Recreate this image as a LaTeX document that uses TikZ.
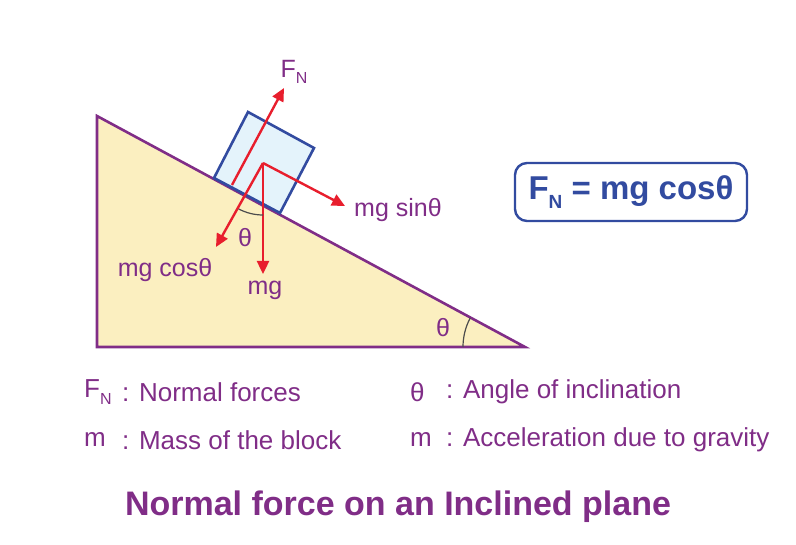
\documentclass[tikz,border=0pt]{standalone}
\usepackage{fontspec}
\setmainfont{Liberation Sans}
\usetikzlibrary{arrows.meta}
\definecolor{pur}{RGB}{128,45,135}
\definecolor{fred}{RGB}{232,30,45}
\definecolor{bblue}{RGB}{50,75,160}
\definecolor{ramp}{RGB}{251,239,192}
\definecolor{blk}{RGB}{228,243,251}
\begin{document}
\begin{tikzpicture}[x=1pt,y=-1pt,
  force/.style={fred,line width=2.4pt,-{Triangle[length=13pt,width=12pt]}},
  lbl/.style={pur,font=\fontsize{25}{28}\selectfont,inner sep=0pt},
  leg/.style={pur,font=\fontsize{26}{28}\selectfont,inner sep=0pt,anchor=west}]
\useasboundingbox (0,0) rectangle (796,545);
\draw[pur,line width=2.6pt,fill=ramp] (97,116) coordinate(t1) -- (97,347) coordinate(t2) -- (525,347) coordinate(t3) -- cycle;
\draw[bblue,line width=2.6pt,fill=blk] (214,178) -- (248,112) -- (314,148) -- (280,213) -- cycle;
\coordinate (c) at (263,163);
\coordinate (fb) at (232,185);
\coordinate (fn) at (284,88);
\coordinate (ms) at (345,206);
\coordinate (mc) at (216,247);
\coordinate (mg) at (263,274);
\draw[force] (fb) -- (fn);
\draw[force] (c) -- (ms);
\draw[force] (c) -- (mc);
\draw[force] (c) -- (mg);
\draw[black!70,line width=1.2pt] (c) ++(118:52) arc[start angle=118,end angle=90,radius=52];
\draw[black!70,line width=1.2pt] (t3) ++(180:62) arc[start angle=180,end angle=208,radius=62];
\node[lbl] (fnl) at (294,72) {F\raisebox{-0.5ex}{\fontsize{16}{17}\selectfont N}};
\node[lbl] (th1) at (245,238) {θ};
\node[lbl] (mcl) at (165,270) {mg cosθ};
\node[lbl] (mgl) at (265,290) {mg};
\node[lbl] (msl) at (398,210) {mg sinθ};
\node[lbl] (th2) at (443,328) {θ};
\node[draw=bblue,line width=2.4pt,rounded corners=12pt,minimum width=232pt,minimum height=58pt,fill=white,text=bblue,font=\bfseries\fontsize{33}{35}\selectfont] (eq) at (631,192) {F\raisebox{-0.5ex}{\fontsize{19}{20}\selectfont N} = mg cosθ};
\node[leg] (l1) at (84,392) {F\raisebox{-0.5ex}{\fontsize{16}{17}\selectfont N}};
\node[leg] (l1b) at (122,392) {: Normal forces};
\node[leg] (l2) at (84,440) {m};
\node[leg] (l2b) at (122,440) {: Mass of the block};
\node[leg] (l3) at (410,392) {θ};
\node[leg] (l3b) at (446,392) {: Angle of inclination};
\node[leg] (l4) at (410,440) {m};
\node[leg] (l4b) at (446,440) {: Acceleration due to gravity};
\node[pur,font=\bfseries\fontsize{34}{36}\selectfont] (title) at (398,507) {Normal force on an Inclined plane};
\end{tikzpicture}
\end{document}
